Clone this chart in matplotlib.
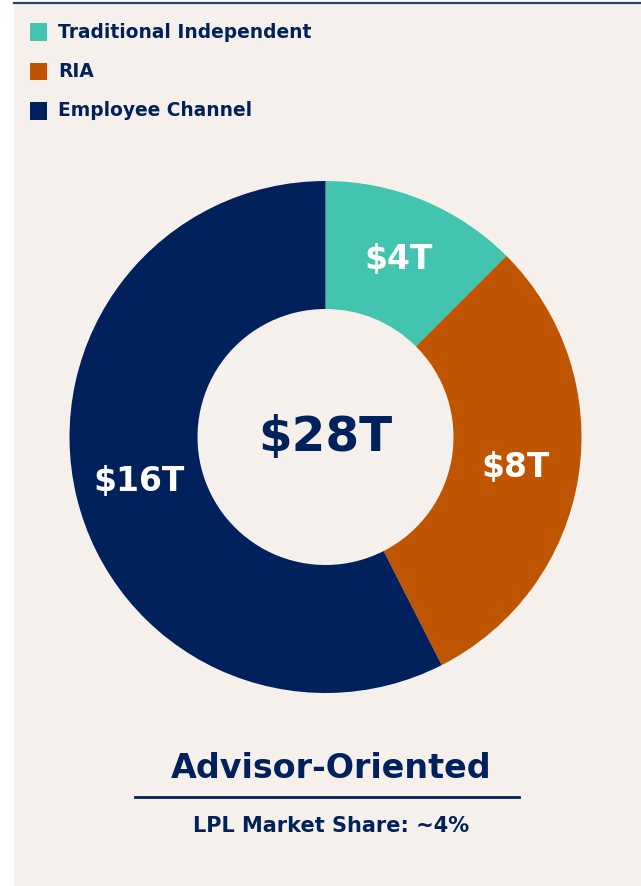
import matplotlib.pyplot as plt
from matplotlib.patches import Rectangle

# data
channels = ["Traditional Independent", "RIA", "Employee Channel"]
assets = [3.5, 8.4, 16.1]           # $T
value_labels = ["$4T", "$8T", "$16T"]
total_label = "$28T"
colors = ["#43c4ae", "#bf5500", "#00215b"]

navy = "#00215b"
beige = "#f5f0ec"
W, H = 641, 886

plt.rcParams['font.family'] = ['DejaVu Sans']

fig = plt.figure(figsize=(W / 100, H / 100), dpi=100)
fig.patch.set_facecolor("white")

def fx(px):
    return px / W

def fy(py):
    return 1 - py / H

# beige panel and the thin rule on top
fig.patches.append(Rectangle((fx(14), 0), 1 - fx(14), fy(3), transform=fig.transFigure,
                             facecolor=beige, edgecolor="none", zorder=-5))
fig.add_artist(plt.Line2D([fx(14), 1], [fy(2.5), fy(2.5)], transform=fig.transFigure,
                          color="#24437c", lw=1.6))

# legend (hand placed squares + labels)
for i, (name, c) in enumerate(zip(channels, colors)):
    yc = 32 + i * 39.5
    fig.patches.append(Rectangle((fx(30), fy(yc + 8.5)), fx(17), 17 / H, transform=fig.transFigure,
                                 facecolor=c, edgecolor="none"))
    fig.text(fx(58), fy(yc), name, ha="left", va="center", fontsize=13.4,
             fontweight="bold", color=navy)

# donut
cx, cy, r = 325.5, 437, 256
ax = fig.add_axes([fx(cx - r), fy(cy + r), 2 * r / W, 2 * r / H])
ax.set_zorder(2)
wedges, texts = ax.pie(assets, colors=colors, startangle=90, counterclock=False,
                       radius=1, labels=value_labels, labeldistance=0.75,
                       wedgeprops=dict(width=0.5, edgecolor="none"),
                       textprops=dict(color="white", fontsize=23.8, fontweight="bold",
                                      ha="center", va="center"))
ax.set_xlim(-1, 1)
ax.set_ylim(-1, 1)
ax.axis("off")
ax.text(0, 0, total_label, ha="center", va="center", fontsize=34.8,
        fontweight="bold", color=navy)

# bottom caption
fig.text(fx(331), fy(769), "Advisor-Oriented", ha="center", va="center",
         fontsize=24, fontweight="bold", color=navy)
fig.add_artist(plt.Line2D([fx(135), fx(519)], [fy(797), fy(797)], transform=fig.transFigure,
                          color=navy, lw=2))
fig.text(fx(331.5), fy(826), "LPL Market Share: ~4%", ha="center", va="center",
         fontsize=15, fontweight="bold", color=navy)

fig.savefig("out.png", dpi=100, facecolor=fig.get_facecolor())
